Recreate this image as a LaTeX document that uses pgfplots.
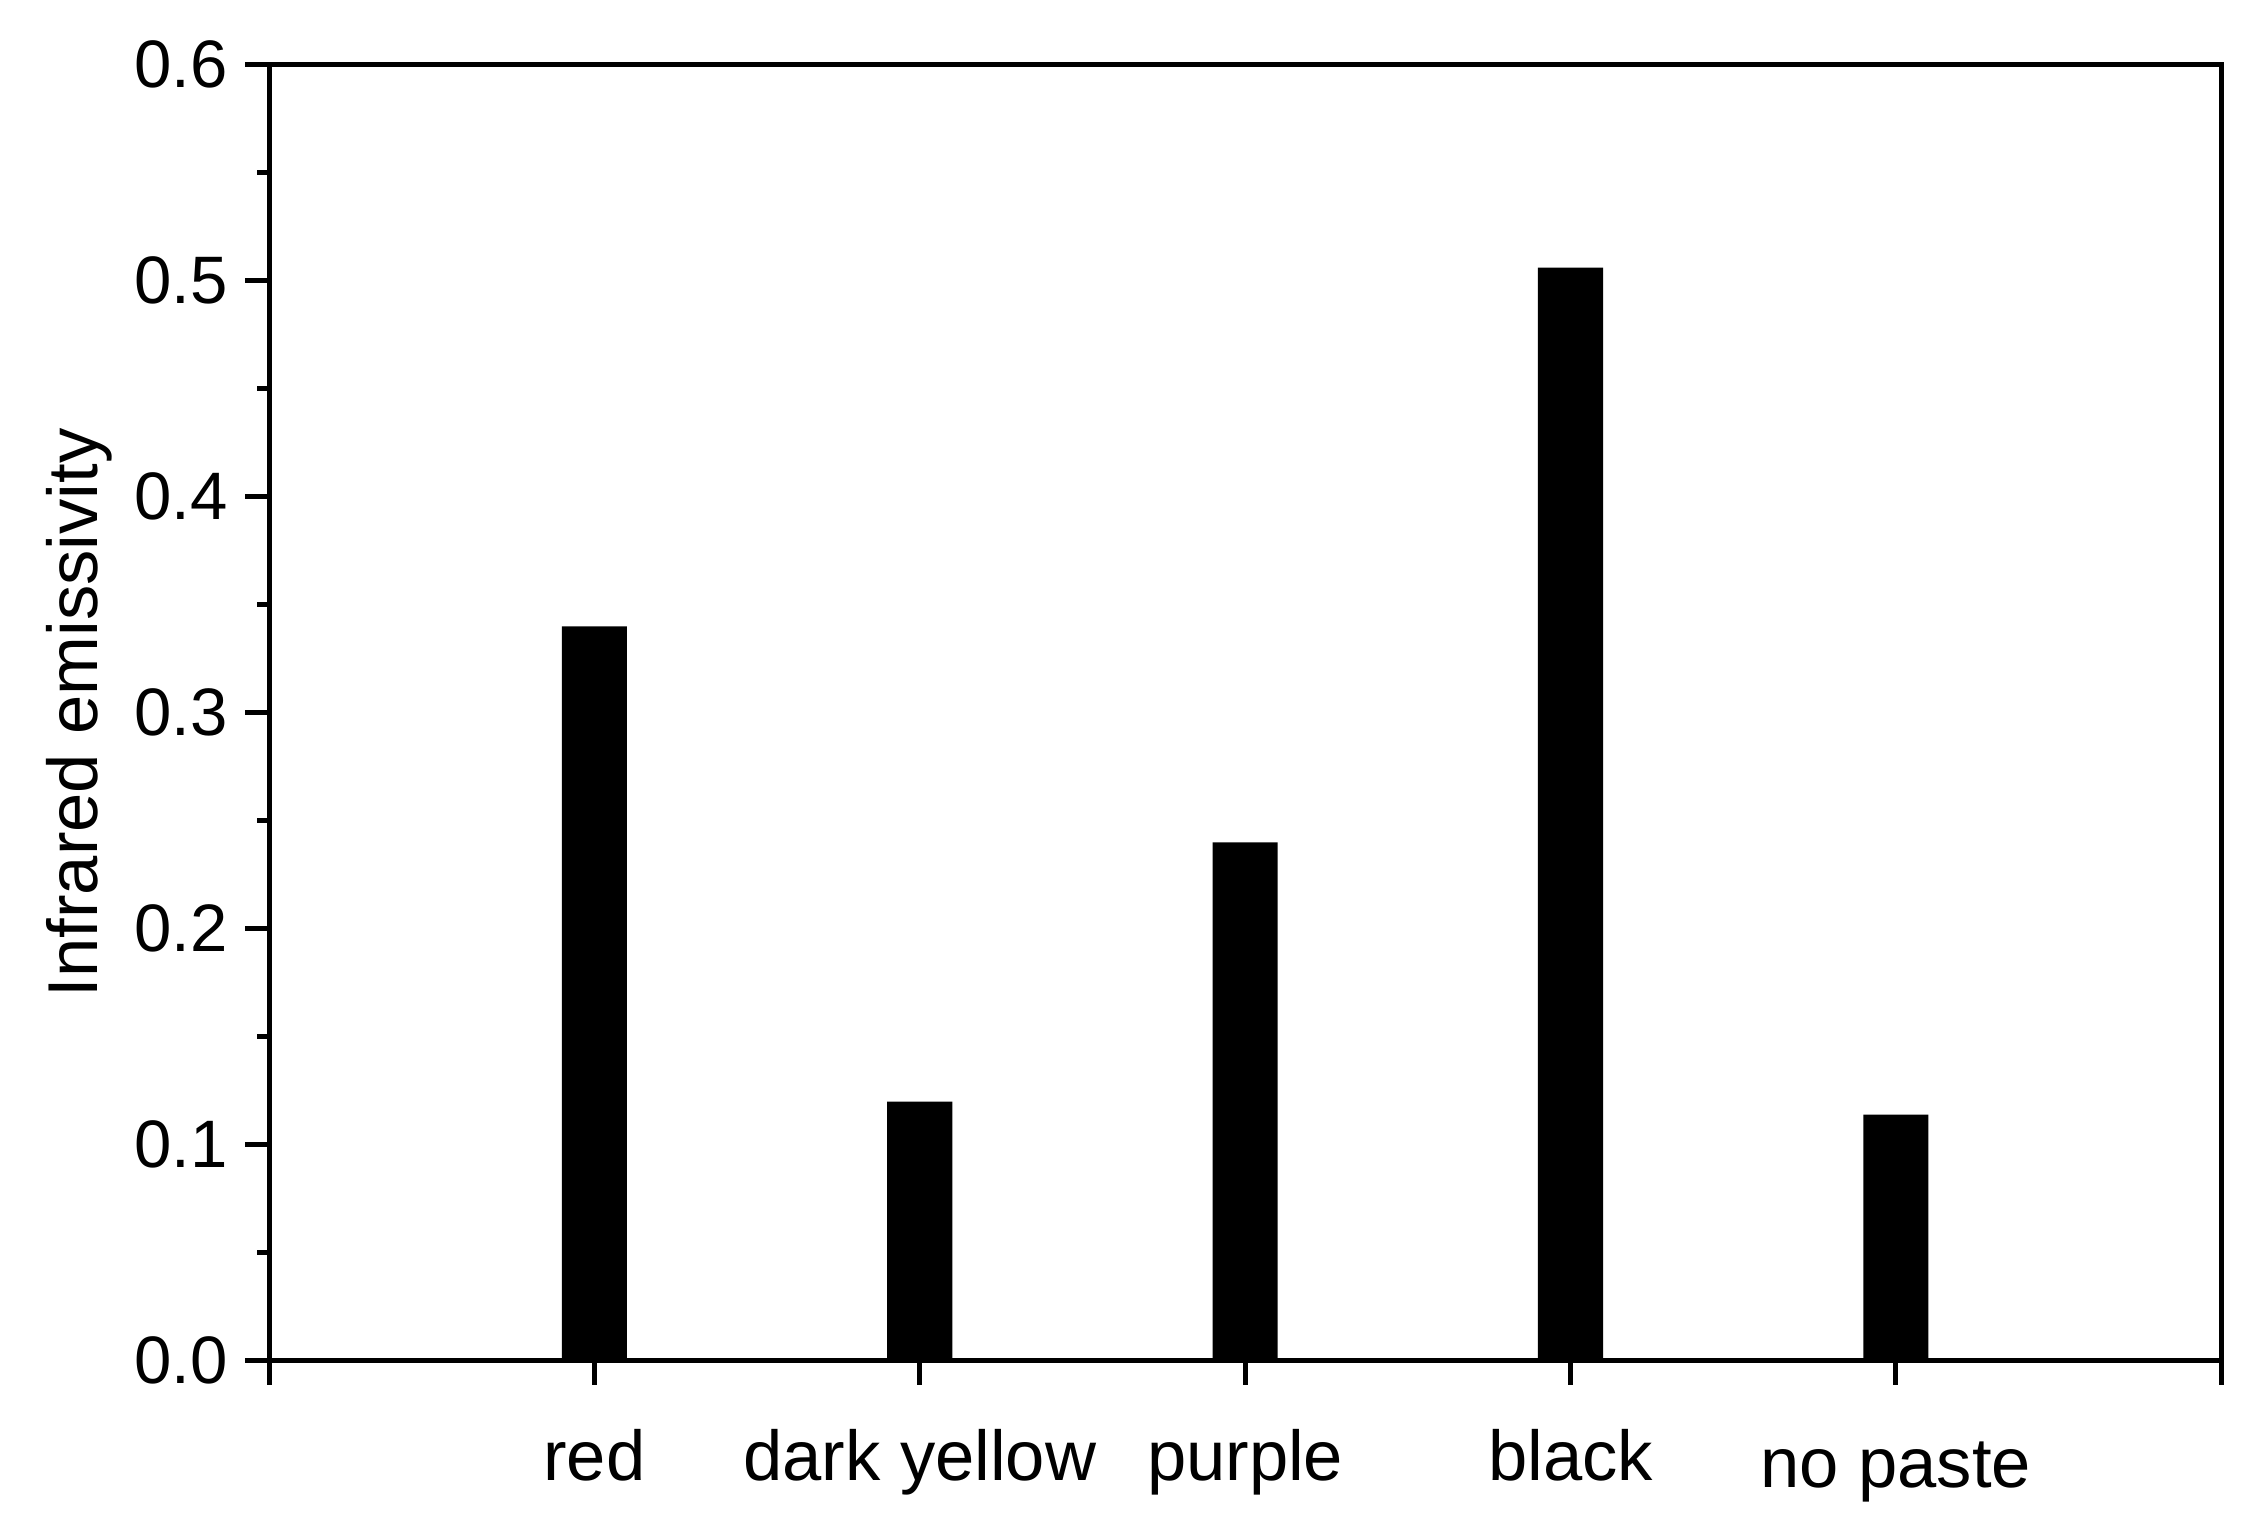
\documentclass[border=0pt]{standalone}
\usepackage{fontspec}
\setmainfont{Liberation Sans}
\usepackage{pgfplots}
\pgfplotsset{compat=1.18}
\begin{document}
\begin{tikzpicture}
\useasboundingbox (-1.916cm,-1.10cm) rectangle (14.084cm,9.69cm);
\begin{axis}[
  scale only axis,
  at={(0,0)}, anchor=south west,
  width=13.9cm, height=9.23cm,
  xmin=0, xmax=6, ymin=0, ymax=0.6,
  xtick={0,1,2,3,4,5,6},
  xticklabels={,red,dark yellow,purple,black,\raisebox{-0.05cm}{no paste},},
  ytick={0,0.1,0.2,0.3,0.4,0.5,0.6},
  minor y tick num=1,
  tick pos=left,
  tick align=outside,
  major tick length=0.17cm,
  minor tick length=0.085cm,
  axis line style={line width=1pt},
  every tick/.style={black, line width=1pt},
  /pgf/number format/assume math mode=true,
  yticklabel style={/pgf/number format/fixed, /pgf/number format/fixed zerofill, /pgf/number format/precision=1, font=\fontsize{13.6}{15}\selectfont},
  xticklabel style={font=\fontsize{14.3}{16}\selectfont, anchor=base, yshift=-0.68cm},
  ylabel={Infrared emissivity},
  ylabel style={font=\fontsize{14.3}{16}\selectfont, xshift=0cm, yshift=-0.08cm},
  scaled y ticks=false,
]
\addplot[ybar, bar width=0.2, fill=black, draw=none] coordinates {
  (1,0.340) (2,0.120) (3,0.240) (4,0.506) (5,0.114)
};
\end{axis}
\end{tikzpicture}
\end{document}
